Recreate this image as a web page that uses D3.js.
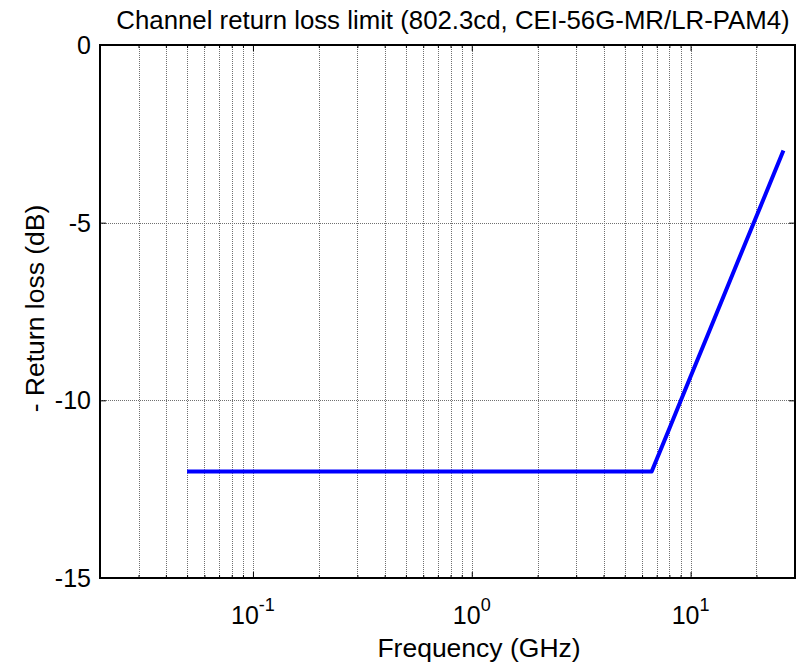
<!DOCTYPE html>
<html>
<head>
<meta charset="utf-8">
<script src="https://cdn.jsdelivr.net/npm/d3@7"></script>
<style>
  html, body { margin: 0; padding: 0; background: #fff; }
  svg text { font-family: "Liberation Sans", Arial, Helvetica, sans-serif; fill: #000; }
</style>
</head>
<body>
<svg id="chart" width="800" height="666"></svg>
<script>
// Channel return loss limit: flat to fb/8, then rising with log frequency
const freqGHz = [0.05, 6.640625, 8, 10, 12, 14, 16, 18, 20, 22, 24, 26.5625];
const negReturnLossDb = [-12, -12, -10.79, -9.33, -8.15, -7.14, -6.27, -5.50, -4.82, -4.20, -3.63, -2.97];

const yTicks = [0, -5, -10, -15];
const xMajorTicks = [0.1, 1, 10];
const xMajorExponents = ["-1", "0", "1"];
const xMinorTicks = [0.02, 0.03, 0.04, 0.05, 0.06, 0.07, 0.08, 0.09,
                     0.2, 0.3, 0.4, 0.5, 0.6, 0.7, 0.8, 0.9,
                     2, 3, 4, 5, 6, 7, 8, 9, 20, 30];

const titleText = "Channel return loss limit (802.3cd, CEI-56G-MR/LR-PAM4)";
const xLabelText = "Frequency (GHz)";
const yLabelText = "- Return loss (dB)";

const W = 800, H = 666;
const m = { left: 100, right: 5, top: 45, bottom: 88 };
const innerW = W - m.left - m.right, innerH = H - m.top - m.bottom;

const svg = d3.select("#chart");
const g = svg.append("g").attr("transform", `translate(${m.left},${m.top})`);

const x = d3.scaleLog().domain([0.02, 30]).range([0, innerW]);
const y = d3.scaleLinear().domain([-15, 0]).range([innerH, 0]);

// dotted grid
const grid = g.append("g").attr("stroke", "#707070").attr("stroke-width", 1)
  .attr("stroke-dasharray", "1,1").attr("shape-rendering", "crispEdges");
grid.selectAll("line.v").data(xMinorTicks.concat(xMajorTicks)).join("line")
  .attr("x1", d => Math.round(x(d)) + 0.5).attr("x2", d => Math.round(x(d)) + 0.5)
  .attr("y1", 0).attr("y2", innerH);
grid.selectAll("line.h").data(yTicks.slice(1, 3)).join("line")
  .attr("y1", d => Math.round(y(d)) + 0.5).attr("y2", d => Math.round(y(d)) + 0.5)
  .attr("x1", 0).attr("x2", innerW);

// data line
const line = d3.line().x((d, i) => x(freqGHz[i])).y(d => y(d));
g.append("path").datum(negReturnLossDb)
  .attr("d", line).attr("fill", "none").attr("stroke", "#0000ff")
  .attr("stroke-width", 4).attr("stroke-linejoin", "round");

// inward ticks on all four sides
const minorLen = 3, majorLen = 6;
function inwardAxis(axisFn, scale, values, len) {
  return axisFn(scale).tickValues(values).tickSizeInner(-len).tickSizeOuter(0).tickFormat("");
}
const axes = g.append("g").attr("class", "axes");
axes.append("g").attr("transform", `translate(0,${innerH})`).call(inwardAxis(d3.axisBottom, x, xMinorTicks, minorLen));
axes.append("g").attr("transform", `translate(0,${innerH})`).call(inwardAxis(d3.axisBottom, x, xMajorTicks, majorLen));
axes.append("g").call(inwardAxis(d3.axisTop, x, xMinorTicks, minorLen));
axes.append("g").call(inwardAxis(d3.axisTop, x, xMajorTicks, majorLen));
axes.append("g").call(inwardAxis(d3.axisLeft, y, yTicks, majorLen));
axes.append("g").attr("transform", `translate(${innerW},0)`).call(inwardAxis(d3.axisRight, y, yTicks, majorLen));
axes.selectAll("path.domain").remove();
axes.selectAll("line").attr("stroke", "#000").attr("stroke-width", 1);

// box
g.append("rect").attr("x", 0).attr("y", 0).attr("width", innerW).attr("height", innerH)
  .attr("fill", "none").attr("stroke", "#000").attr("stroke-width", 2);

// y tick labels
g.selectAll("text.ytl").data(yTicks).join("text")
  .attr("class", "ytl")
  .attr("x", -9).attr("y", d => y(d)).attr("dy", "0.36em")
  .attr("text-anchor", "end").attr("font-size", 25)
  .text(d => d3.format("d")(d).replace("\u2212", "-"));

// x tick labels as powers of ten
const xl = g.selectAll("text.xtl").data(xMajorTicks).join("text")
  .attr("class", "xtl")
  .attr("x", d => x(d)).attr("y", innerH + 46)
  .attr("text-anchor", "middle").attr("font-size", 25);
xl.append("tspan").text("10");
xl.append("tspan").attr("dy", -13).attr("font-size", 18).text((d, i) => xMajorExponents[i]);

// axis labels and title
svg.append("text").attr("x", 479).attr("y", 657)
  .attr("text-anchor", "middle").attr("font-size", 26.5).text(xLabelText);
svg.append("text").attr("transform", `translate(44,${m.top + innerH / 2 - 3}) rotate(-90)`)
  .attr("text-anchor", "middle").attr("font-size", 26.5).text(yLabelText);
svg.append("text").attr("x", 453).attr("y", 29)
  .attr("text-anchor", "middle").attr("font-size", 25.8).text(titleText);
</script>
</body>
</html>
